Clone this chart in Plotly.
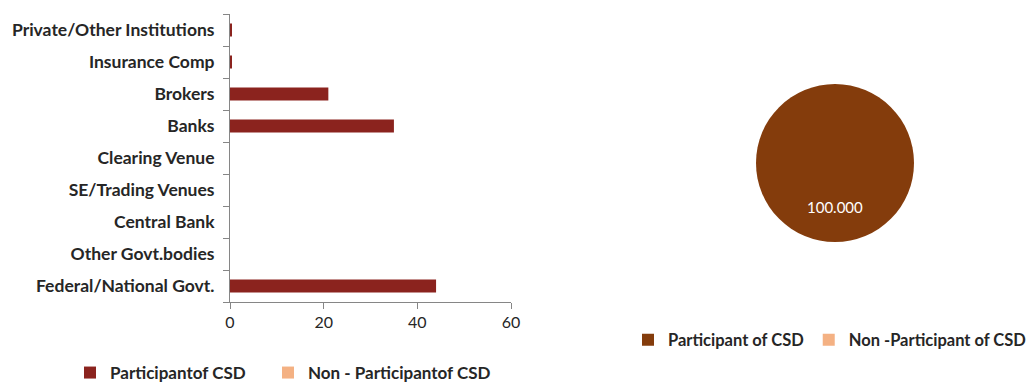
import plotly.graph_objects as go

categories = ["Federal/National Govt.", "Other Govt.bodies", "Central Bank", "SE/Trading Venues",
              "Clearing Venue", "Banks", "Brokers", "Insurance Comp", "Private/Other Institutions"]
participant = [44, 0, 0, 0, 0, 35, 21, 0.4, 0.4]
non_participant = [0, 0, 0, 0, 0, 0, 0, 0, 0]

pie_labels = ["Participant of CSD", "Non -Participant of CSD"]
pie_values = [100.0, 0.0]

W, H = 1030, 383
FONT = "Lato"
TXT = "#262626"

fig = go.Figure()
fig.add_trace(go.Bar(y=categories, x=participant, orientation="h", name="Participantof CSD",
                     marker=dict(color="#8B231E", line=dict(width=0)), width=0.4,
                     legend="legend", showlegend=True, hoverinfo="x+y"))
fig.add_trace(go.Bar(y=categories, x=non_participant, orientation="h", name="Non - Participantof CSD",
                     marker=dict(color="#F4B183", line=dict(width=0)), width=0.4,
                     legend="legend3", showlegend=True, hoverinfo="x+y"))

fig.add_trace(go.Pie(labels=pie_labels, values=pie_values, sort=False, direction="clockwise",
                     marker=dict(colors=["#843C0C", "#F4B183"], line=dict(width=0)),
                     textinfo="none", showlegend=True, legend="legend2",
                     domain=dict(x=[756 / W, 914 / W], y=[(H - 242) / H, (H - 84) / H])))

fig.add_annotation(x=835 / W, y=(H - 207) / H, xref="paper", yref="paper",
                   xanchor="center", yanchor="middle",
                   text=f"{pie_values[0]:.3f}", showarrow=False,
                   font=dict(family=FONT, size=15, color="white"))

leg_font = dict(family=FONT, size=17, color=TXT, weight="bold")
fig.update_layout(
    width=W, height=H, margin=dict(l=0, r=0, t=0, b=0, autoexpand=False),
    paper_bgcolor="white", plot_bgcolor="white",
    barmode="overlay", showlegend=True,
    font=dict(family=FONT, size=15, color=TXT),
    xaxis=dict(domain=[230 / W, 511 / W], range=[0, 60], tickvals=[0, 20, 40, 60],
               showgrid=False, zeroline=False, showline=True, linecolor="#868686", linewidth=1,
               ticks="outside", ticklen=6, tickcolor="#868686", automargin=False,
               tickfont=dict(family=FONT, size=16, color=TXT)),
    yaxis=dict(domain=[(H - 302) / H, (H - 14) / H], categoryorder="array", categoryarray=categories,
               showgrid=False, showline=True, linecolor="#868686", linewidth=1, automargin=False,
               ticks="outside", ticklen=6, tickcolor="#868686", tickwidth=1, tickson="boundaries",
               tickfont=dict(family=FONT, size=17.5, color=TXT, weight="bold"),
               ticklabelstandoff=11),
    legend=dict(orientation="h", x=70 / W, y=(H - 373) / H, xanchor="left", yanchor="middle",
                font=leg_font, itemwidth=30, bgcolor="rgba(0,0,0,0)"),
    legend3=dict(orientation="h", x=268 / W, y=(H - 373) / H, xanchor="left", yanchor="middle",
                 font=leg_font, itemwidth=30, bgcolor="rgba(0,0,0,0)"),
    legend2=dict(orientation="h", x=628 / W, y=(H - 340) / H, xanchor="left", yanchor="middle",
                 font=dict(family=FONT, size=16.5, color=TXT, weight="bold"),
                 itemwidth=30, bgcolor="rgba(0,0,0,0)"),
)

fig.write_html("out.html", config={"displayModeBar": False},
               post_script="document.body.style.margin='0';")
